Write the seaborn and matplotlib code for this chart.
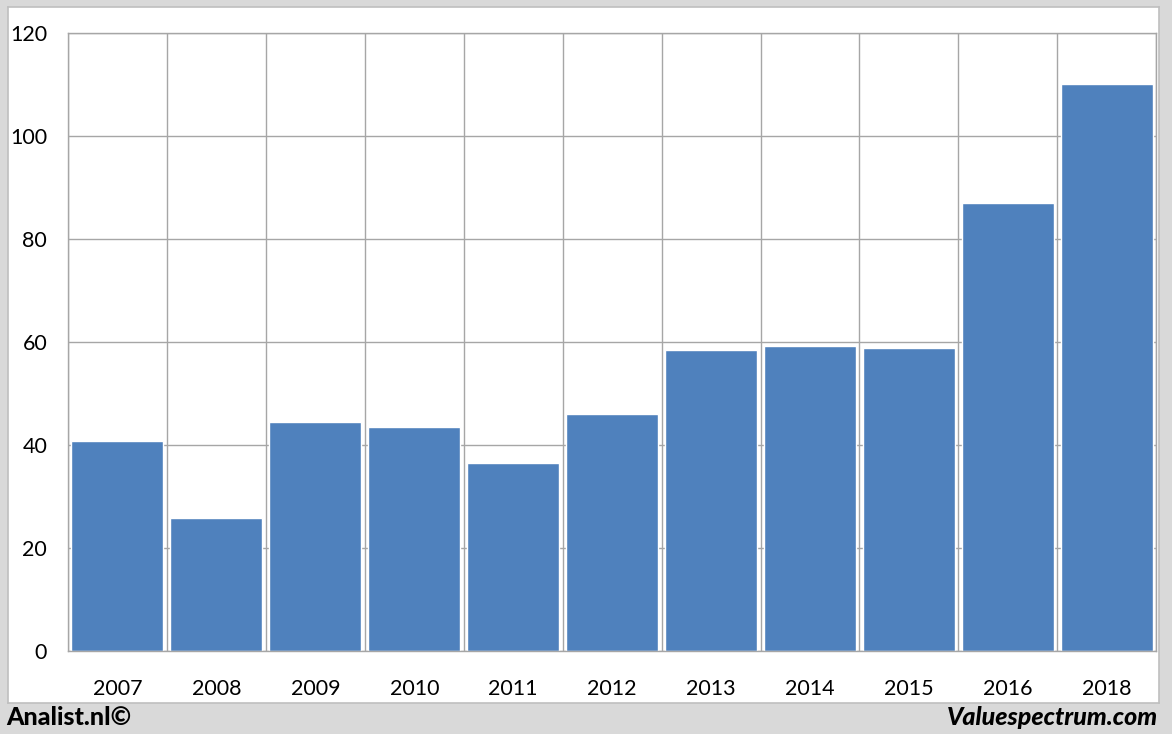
import numpy as np
import pandas as pd
import matplotlib
matplotlib.use("Agg")
import matplotlib.pyplot as plt
import seaborn as sns

years = ["2007", "2008", "2009", "2010", "2011", "2012", "2013", "2014", "2015", "2016", "2018"]
values = [40.8, 25.9, 44.5, 43.5, 36.6, 46.0, 58.5, 59.2, 58.8, 87.0, 110.1]
y_ticks = [0, 20, 40, 60, 80, 100, 120]

BAR = "#4f81bd"
GRID = "#a6a6a6"

sns.set_style("white")
plt.rcParams["font.family"] = ["Lato", "DejaVu Sans"]

df = pd.DataFrame({"year": years, "value": values})

fig = plt.figure(figsize=(11.72, 7.34), dpi=100)
fig.patch.set_facecolor("#d9d9d9")

# white chart panel behind the plot
bg = fig.add_axes([0.0068, 0.0422, 0.982, 0.948], zorder=0)
bg.set_facecolor("white")
bg.set_xticks([])
bg.set_yticks([])
for s in bg.spines.values():
    s.set_color("#bfbfbf")
    s.set_linewidth(1.2)

ax = fig.add_axes([0.058, 0.1131, 0.9286, 0.8419], zorder=1)
ax.set_facecolor("none")
sns.barplot(data=df, x="year", y="value", color=BAR, width=0.93, saturation=1, ax=ax, zorder=2)

ax.set_ylim(0, 120)
ax.set_xlim(-0.5, len(years) - 0.5)
ax.set_yticks(y_ticks)
ax.set_xticks(np.arange(-0.5, len(years)), minor=True)
ax.grid(True, axis="y", color=GRID, linewidth=1, zorder=0)
ax.grid(True, axis="x", which="minor", color=GRID, linewidth=1, zorder=0)
ax.set_axisbelow(True)
ax.tick_params(axis="x", which="major", length=0, pad=20, labelsize=15.5, labelcolor="black")
ax.tick_params(axis="x", which="minor", length=8, color=GRID, width=1)
ax.tick_params(axis="y", length=8, color=GRID, width=1, pad=7, labelsize=15.5, labelcolor="black")
for s in ax.spines.values():
    s.set_color(GRID)
    s.set_linewidth(1)
ax.set_xlabel("")
ax.set_ylabel("")

fig.text(0.005, 0.022, "Analist.nl©", fontsize=18, fontweight="black", color="black",
         ha="left", va="center")
fig.text(0.988, 0.022, "Valuespectrum.com", fontsize=18, fontweight="black", style="italic",
         color="black", ha="right", va="center")

fig.savefig("out.png", dpi=100, facecolor=fig.get_facecolor())
